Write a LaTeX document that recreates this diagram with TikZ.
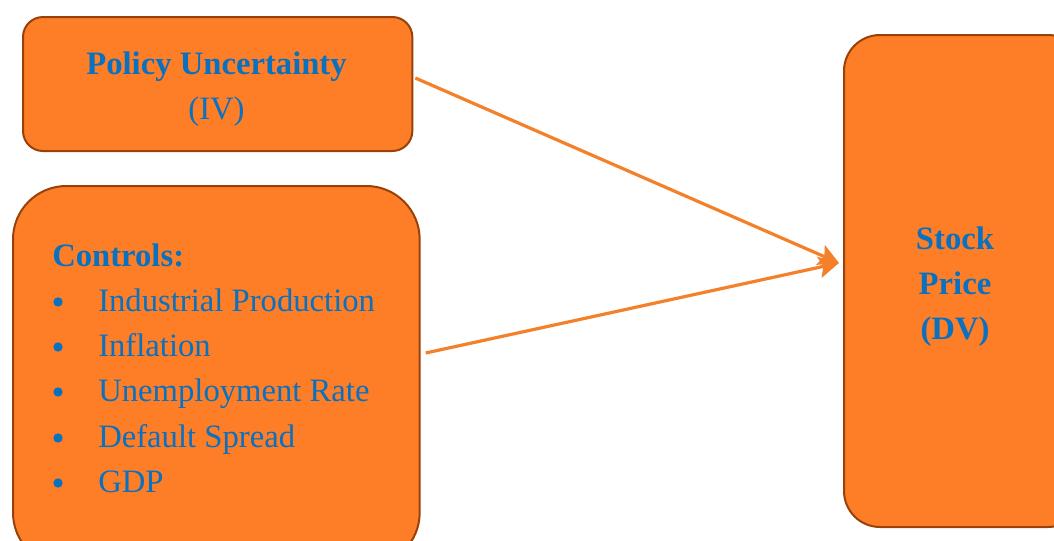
\documentclass[tikz,border=0pt]{standalone}
\usepackage{fontspec}
\setmainfont{Liberation Serif}
\usetikzlibrary{arrows.meta,calc}
\definecolor{boxfill}{HTML}{FD7E26}
\definecolor{boxline}{HTML}{9A4109}
\definecolor{txtblue}{HTML}{0A70C0}
\definecolor{arrowc}{HTML}{F5802A}
\tikzset{
  box/.style={draw=boxline, fill=boxfill, line width=1.5pt},
  lbl/.style={text=txtblue, font=\fontsize{24.5}{33.75}\selectfont, inner sep=0pt},
  blbl/.style={lbl, font=\fontsize{24.5}{33.75}\selectfont\bfseries},
  bul/.style={circle, fill=txtblue, inner sep=0pt, minimum size=7pt},
  conn/.style={draw=arrowc, line width=2.4pt, -{Stealth[length=15pt,width=16pt,inset=3pt]}}
}
\begin{document}
\begin{tikzpicture}[x=0.75pt,y=-0.75pt]
\useasboundingbox (0,0) rectangle (1054,540);
\clip (0,0) rectangle (1054,540);
% boxes
\node[box, rounded corners=15pt, minimum width=292pt, minimum height=100.5pt, anchor=north west] (iv) at (22,16) {};
\node[box, rounded corners=40pt, minimum width=305pt, minimum height=285pt, anchor=north west] (ctrl) at (12,185) {};
\node[box, rounded corners=27pt, minimum width=180pt, minimum height=369pt, anchor=north west] (dv) at (843,34) {};
% texts
\node[blbl, anchor=base] (t1) at (216.5,74) {Policy Uncertainty};
\node[lbl, anchor=base] (t2) at (216.5,119) {(IV)};
\node[blbl, anchor=base west] (c0) at (52,266) {Controls:};
\foreach \y/\t [count=\i] in {311/Industrial Production,356/Inflation,401/Unemployment Rate,447/Default Spread,492/GDP}{
  \node[bul] (b\i) at (58,\y-9) {};
  \node[lbl, anchor=base west] (c\i) at (98,\y) {\t};
}
\node[blbl, anchor=base] (s1) at (955,249) {Stock};
\node[blbl, anchor=base] (s2) at (955,294) {Price};
\node[blbl, anchor=base] (s3) at (955,339) {(DV)};
% connectors
\coordinate (tip) at ($(dv.west)+(-4,-18)$);
\draw[conn] ($(iv.east)+(2,-6)$) -- (tip);
\draw[conn] ($(ctrl.north east)+(5,168)$) -- (tip);
\end{tikzpicture}
\end{document}
